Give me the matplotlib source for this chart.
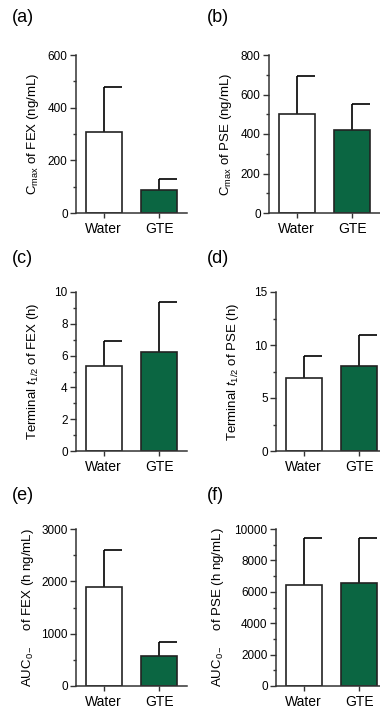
import numpy as np
import matplotlib
matplotlib.use("Agg")
import matplotlib.pyplot as plt
from matplotlib.ticker import MultipleLocator

plt.rcParams['font.family'] = ['Liberation Sans', 'DejaVu Sans']
plt.rcParams['mathtext.fontset'] = 'custom'
plt.rcParams['mathtext.rm'] = 'Liberation Sans'
plt.rcParams['mathtext.it'] = 'Liberation Sans:italic'

groups = ['Water', 'GTE']
bar_colors = ['white', '#0b6642']

panel_tags = ['(a)', '(b)', '(c)', '(d)', '(e)', '(f)']
ylabels = [
    r'$\mathrm{C}_{\mathrm{max}}$ of FEX (ng/mL)',
    r'$\mathrm{C}_{\mathrm{max}}$ of PSE (ng/mL)',
    r'Terminal $t_{\mathrm{1/2}}$ of FEX (h)',
    r'Terminal $t_{\mathrm{1/2}}$ of PSE (h)',
    r'AUC$_{\mathrm{0-}}$    of FEX (h ng/mL)',
    r'AUC$_{\mathrm{0-}}$    of PSE (h ng/mL)',
]

# bar heights and upper error (SD) per panel
means_a = [307, 88]
sd_a = [171, 40]
means_b = [500, 419]
sd_b = [194, 133]
means_c = [5.37, 6.23]
sd_c = [1.56, 3.13]
means_d = [6.85, 8.0]
sd_d = [2.1, 2.9]
means_e = [1900, 570]
sd_e = [690, 275]
means_f = [6450, 6550]
sd_f = [2980, 2860]

means = [means_a, means_b, means_c, means_d, means_e, means_f]
sds = [sd_a, sd_b, sd_c, sd_d, sd_e, sd_f]

ymax = [600, 800, 10, 15, 3000, 10000]
ymajor = [200, 200, 2, 5, 1000, 2000]

W, H = 380, 710
fig = plt.figure(figsize=(W / 100, H / 100), dpi=100)

# axes boxes in pixels: left, top, bottom; and label positions
boxes = [(76, 55, 213), (269, 55, 213),
         (76, 292, 451), (276, 292, 451),
         (76, 529, 686), (276, 529, 686)]
tag_pos = [(12, 18), (207, 18), (12, 259), (207, 259), (12, 495), (207, 495)]
ylab_x = [33, 226, 33, 233, 28, 218]
ax_w = 111

for i in range(6):
    left, top, bot = boxes[i]
    ax = fig.add_axes([left / W, (H - bot) / H, ax_w / W, (bot - top) / H])
    x = np.arange(len(groups))
    bw = 0.64
    m = np.array(means[i])
    s = np.array(sds[i])
    ax.vlines(x, m, m + s, color='black', lw=1.2, zorder=1)
    ax.hlines(m + s, x, x + bw / 2, color='black', lw=1.2, zorder=1)
    ax.bar(x, m, width=bw, color=bar_colors, edgecolor='#222222', linewidth=1.2, zorder=2)

    ax.set_xlim(-0.5, 1.5)
    ax.set_ylim(0, ymax[i])
    ax.yaxis.set_major_locator(MultipleLocator(ymajor[i]))
    ax.yaxis.set_minor_locator(MultipleLocator(ymajor[i] / 2))
    ax.set_xticks(x)
    ax.set_xticklabels(groups, fontsize=10)
    ax.tick_params(axis='y', labelsize=8.5, length=4.5, width=1.0, pad=1.5, color='#333333')
    ax.tick_params(axis='y', which='minor', length=2.5, width=1.0, color='#333333')
    ax.tick_params(axis='x', length=3.5, width=1.0, pad=3, color='#333333')
    for sp in ['top', 'right']:
        ax.spines[sp].set_visible(False)
    for sp in ['left', 'bottom']:
        ax.spines[sp].set_linewidth(1.1)
        ax.spines[sp].set_color('#333333')

    fig.text(ylab_x[i] / W, 1 - (top + bot) / 2 / H, ylabels[i], rotation=90,
             ha='center', va='center', fontsize=9.5)
    tx, ty = tag_pos[i]
    fig.text(tx / W, 1 - ty / H, panel_tags[i], ha='left', va='center', fontsize=13)

fig.savefig('out.png', dpi=100)
